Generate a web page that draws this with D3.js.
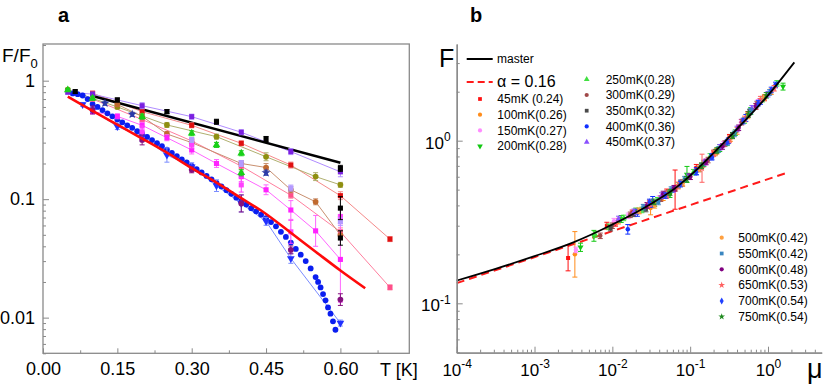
<!DOCTYPE html>
<html>
<head>
<meta charset="utf-8">
<script src="https://cdn.jsdelivr.net/npm/d3@7"></script>
<style>
body { margin: 0; background: #fff; }
text { font-family: "Liberation Sans", Arial, sans-serif; fill: #000; }
</style>
</head>
<body>
<svg id="chart" width="830" height="389"></svg>
<script>
// ---------- panel a : F/F0 against T ----------
var blackFitT = [0.1, 0.6];
var blackFitF = [0.743, 0.203];
var redFitT = [0.05, 0.1, 0.15, 0.2, 0.25, 0.3, 0.35, 0.4, 0.45, 0.5, 0.55, 0.6, 0.65];
var redFitF = [0.733, 0.556, 0.425, 0.325, 0.247, 0.183, 0.138, 0.102, 0.075, 0.052, 0.036, 0.025, 0.0177];

var dotsT = [0.06, 0.07, 0.08, 0.09, 0.10, 0.11, 0.12, 0.13, 0.14, 0.15, 0.16, 0.17, 0.18, 0.19, 0.20,
             0.21, 0.22, 0.23, 0.24, 0.25, 0.26, 0.27, 0.28, 0.29, 0.30, 0.31, 0.32, 0.33, 0.34, 0.35,
             0.36, 0.37, 0.38, 0.39, 0.40, 0.41, 0.42, 0.43, 0.44, 0.45, 0.46, 0.47, 0.48, 0.49, 0.50,
             0.51, 0.52, 0.53, 0.54, 0.55, 0.555, 0.56, 0.565, 0.57, 0.575, 0.58, 0.585, 0.59];
var dotsF = [0.78, 0.77, 0.75, 0.70, 0.635, 0.60, 0.565, 0.53, 0.50, 0.47, 0.445, 0.42, 0.40, 0.375, 0.355,
             0.335, 0.315, 0.297, 0.28, 0.262, 0.246, 0.231, 0.217, 0.204, 0.191, 0.179, 0.168, 0.157, 0.147, 0.137,
             0.128, 0.119, 0.111, 0.103, 0.096, 0.09, 0.084, 0.079, 0.074, 0.069, 0.064, 0.059, 0.053, 0.048, 0.043,
             0.038, 0.034, 0.030, 0.026, 0.022, 0.020, 0.018, 0.0158, 0.014, 0.0122, 0.0108, 0.0093, 0.0079];

var violetT = [0.05, 0.1, 0.2, 0.3, 0.4, 0.5, 0.6];
var violetF = [0.80, 0.77, 0.615, 0.497, 0.367, 0.252, 0.17];
var violetE = [1.04, 1.04, 1.06, 1.05, 1.05, 1.06, 1.1];

var blackT = [0.065, 0.15, 0.25, 0.35, 0.45, 0.6, 0.6, 0.6];
var blackF = [0.81, 0.687, 0.548, 0.45, 0.322, 0.182, 0.084, 0.047];
var blackE = [1.03, 1.04, 1.04, 1.05, 1.05, 1.06, 1.25, 1.15];

var salmonT = [0.1, 0.2, 0.3, 0.4, 0.5, 0.6, 0.7];
var salmonF = [0.783, 0.548, 0.42, 0.296, 0.194, 0.107, 0.046];
var salmonE = [1.04, 1.05, 1.05, 1.05, 1.06, 1.08, 1.05];

var oliveT = [0.05, 0.15, 0.25, 0.35, 0.45, 0.55, 0.6];
var oliveF = [0.84, 0.6, 0.423, 0.337, 0.228, 0.155, 0.132];
var oliveE = [1.03, 1.04, 1.05, 1.05, 1.08, 1.08, 1.05];

var greenT = [0.05, 0.1, 0.2, 0.3, 0.35, 0.4, 0.4];
var greenF = [0.835, 0.71, 0.497, 0.36, 0.287, 0.244, 0.167];
var greenE = [1.03, 1.04, 1.05, 1.05, 1.05, 1.05, 1.06];

var brownT = [0.15, 0.2, 0.25, 0.3, 0.4, 0.45, 0.5, 0.55, 0.6];
var brownF = [0.63, 0.5, 0.355, 0.3, 0.2, 0.185, 0.12, 0.095, 0.0498];
var brownE = [1.04, 1.05, 1.05, 1.06, 1.06, 1.08, 1.06, 1.06, 1.08];

var pinkT = [0.1, 0.2, 0.3, 0.4, 0.5, 0.6, 0.7];
var pinkF = [0.70, 0.47, 0.31, 0.19, 0.108, 0.053, 0.018];
var pinkE = [1.04, 1.05, 1.05, 1.06, 1.06, 1.08, 1.05];

var magT = [0.1, 0.15, 0.2, 0.25, 0.3, 0.35, 0.4, 0.45, 0.5, 0.55, 0.6];
var magF = [0.55, 0.5, 0.42, 0.33, 0.26, 0.2, 0.155, 0.12, 0.081, 0.054, 0.031];
var magE = [1.05, 1.05, 1.06, 1.06, 1.08, 1.08, 1.1, 1.1, 1.2, 1.35, 2.3];

var mag2T = [0.2, 0.3, 0.4, 0.5, 0.6];
var mag2F = [0.37, 0.29, 0.132, 0.053, 0.0714];
var mag2E = [1.12, 1.08, 1.15, 1.25, 1.15];

var blueT = [0.08, 0.1, 0.15, 0.2, 0.25, 0.3, 0.35, 0.4, 0.45, 0.5, 0.6];
var blueF = [0.63, 0.566, 0.41, 0.337, 0.236, 0.188, 0.13, 0.092, 0.065, 0.0316, 0.009];
var blueE = [1.04, 1.05, 1.06, 1.1, 1.15, 1.08, 1.12, 1.18, 1.08, 1.1, 1.06];

var dpurpT = [0.1, 0.2, 0.3, 0.4, 0.5, 0.6];
var dpurpF = [0.566, 0.316, 0.177, 0.092, 0.0373, 0.0142];
var dpurpE = [1.08, 1.1, 1.06, 1.18, 1.08, 1.12];

var lilacT = [0.3, 0.4, 0.5, 0.6];
var lilacF = [0.316, 0.2, 0.124, 0.0646];
var lilacE = [1.05, 1.06, 1.06, 1.08];

var navyT = [0.125, 0.18, 0.45];
var navyF = [0.645, 0.52, 0.167];
var navyE = [1.04, 1.04, 1.05];

var aTicks = [0, 0.15, 0.3, 0.45, 0.6];
var aMinor = [0.075, 0.225, 0.375, 0.525, 0.675];
var aYTicks = [0.01, 0.1, 1];

// ---------- panel b : F against mu ----------
var masterMu = [1e-4, 3.16e-4, 1e-3, 3.16e-3, 1e-2, 3.16e-2, 0.0676, 0.1, 0.316, 1.0, 2.18];
var masterF = [0.138, 0.163, 0.195, 0.237, 0.305, 0.41, 0.52, 0.61, 1.05, 1.9, 3.03];
var alphaMu = [1e-4, 1.84];
var alphaF = [0.133, 0.64];

var mu45 = [0.0027, 0.0085, 0.011, 0.018, 0.03, 0.05, 0.064, 0.12, 0.2, 0.32, 0.55, 0.9];
var f45 = [0.19, 0.30, 0.31, 0.36, 0.41, 0.48, 0.50, 0.68, 0.84, 1.04, 1.45, 1.83];
var e45 = [1.2, 1.05, 1.04, 1.04, 1.05, 1.05, 1.32, 1.05, 1.04, 1.05, 1.04, 1.04];
var mu100 = [0.0033, 0.012, 0.022, 0.031, 0.045, 0.08, 0.14, 0.22, 0.4, 0.7, 1.1];
var f100 = [0.20, 0.32, 0.37, 0.385, 0.45, 0.55, 0.70, 0.86, 1.15, 1.62, 2.0];
var e100 = [1.38, 1.04, 1.04, 1.1, 1.05, 1.05, 1.04, 1.04, 1.05, 1.04, 1.04];
var mu150 = [0.0034, 0.0105, 0.016, 0.026, 0.04, 0.06, 0.1, 0.16, 0.27, 0.45, 0.75];
var f150 = [0.213, 0.32, 0.345, 0.39, 0.44, 0.5, 0.6, 0.74, 0.95, 1.3, 1.72];
var mu200 = [0.0039, 0.0058, 0.013, 0.02, 0.035, 0.055, 0.091, 0.15, 0.24, 0.38, 0.6, 1.56];
var f200 = [0.221, 0.26, 0.33, 0.37, 0.41, 0.47, 0.62, 0.72, 0.9, 1.12, 1.52, 2.15];
var e200 = [1.06, 1.08, 1.05, 1.04, 1.04, 1.05, 1.12, 1.04, 1.05, 1.04, 1.05, 1.05];
var mu250 = [0.006, 0.009, 0.014, 0.024, 0.038, 0.07, 0.11, 0.18, 0.3, 0.5, 0.85, 1.3];
var f250 = [0.265, 0.295, 0.335, 0.375, 0.43, 0.53, 0.64, 0.8, 0.97, 1.33, 1.8, 2.25];
var mu300 = [0.007, 0.01, 0.017, 0.028, 0.042, 0.065, 0.1, 0.17, 0.28, 0.46, 0.72];
var f300 = [0.26, 0.30, 0.35, 0.4, 0.44, 0.51, 0.6, 0.76, 0.96, 1.3, 1.68];
var mu350 = [0.0095, 0.019, 0.027, 0.048, 0.075, 0.13, 0.21, 0.35, 0.58];
var f350 = [0.29, 0.355, 0.38, 0.46, 0.55, 0.67, 0.85, 1.08, 1.5];
var mu400 = [0.0158, 0.021, 0.033, 0.05, 0.078, 0.12, 0.19, 0.31, 0.52, 0.8, 1.25];
var f400 = [0.285, 0.36, 0.42, 0.47, 0.55, 0.65, 0.79, 1.0, 1.38, 1.74, 2.2];
var e400 = [1.07, 1.05, 1.08, 1.04, 1.04, 1.05, 1.04, 1.04, 1.05, 1.04, 1.04];
var mu450 = [0.012, 0.019, 0.03, 0.043, 0.06, 0.095, 0.15, 0.24, 0.4, 0.62, 1.0];
var f450 = [0.33, 0.365, 0.41, 0.46, 0.5, 0.6, 0.73, 0.91, 1.18, 1.58, 1.93];
var mu500 = [0.022, 0.035, 0.05, 0.08, 0.13, 0.21, 0.33, 0.55, 0.9];
var f500 = [0.37, 0.4, 0.47, 0.55, 0.67, 0.84, 1.03, 1.42, 1.85];
var mu550 = [0.025, 0.039, 0.057, 0.085, 0.14, 0.23, 0.37, 0.6, 1.05];
var f550 = [0.39, 0.42, 0.5, 0.58, 0.7, 0.88, 1.1, 1.52, 1.98];
var mu600 = [0.028, 0.045, 0.062, 0.1, 0.16, 0.26, 0.42, 0.7];
var f600 = [0.40, 0.47, 0.51, 0.6, 0.74, 0.92, 1.2, 1.63];
var mu650 = [0.03, 0.05, 0.07, 0.142, 0.2, 0.32, 0.5, 0.8, 1.2];
var f650 = [0.41, 0.46, 0.53, 0.677, 0.83, 1.02, 1.36, 1.8, 2.1];
var e650 = [1.04, 1.04, 1.05, 1.22, 1.04, 1.05, 1.04, 1.04, 1.04];
var mu700 = [0.03, 0.048, 0.075, 0.12, 0.19, 0.3, 0.48, 0.75, 1.1];
var f700 = [0.42, 0.46, 0.54, 0.64, 0.8, 0.98, 1.32, 1.7, 2.05];
var mu750 = [0.034, 0.055, 0.09, 0.14, 0.22, 0.35, 0.56, 0.95];
var f750 = [0.42, 0.48, 0.58, 0.7, 0.87, 1.07, 1.45, 1.9];

var bXTicks = [1e-4, 1e-3, 1e-2, 1e-1, 1];
var bYTicks = [0.1, 1];

// ---------- drawing ----------
var svg = d3.select("#chart");
var axisGray = "#8a8a8a";

function rows(t, f, e) {
    return t.map(function(d, i) { return { x: d, y: f[i], e: e ? e[i] : 1.04 }; });
}

function drawMarks(g, x, y, pts, color, sym, size, barColor) {
    var bars = g.append("g").attr("stroke", barColor).attr("stroke-width", 1);
    pts.forEach(function(p) {
        var cx = x(p.x), y0 = y(p.y / p.e), y1 = y(p.y * p.e);
        bars.append("line").attr("x1", cx).attr("x2", cx).attr("y1", y0).attr("y2", y1);
        bars.append("line").attr("x1", cx - 2.5).attr("x2", cx + 2.5).attr("y1", y0).attr("y2", y0);
        bars.append("line").attr("x1", cx - 2.5).attr("x2", cx + 2.5).attr("y1", y1).attr("y2", y1);
    });
    g.append("g").selectAll("path").data(pts).join("path")
        .attr("transform", function(p) { return "translate(" + x(p.x) + "," + y(p.y) + ")" + (sym.down ? " rotate(180)" : ""); })
        .attr("d", d3.symbol().type(sym.type || sym).size(size))
        .attr("fill", color);
}

var tri = d3.symbolTriangle;
var triDown = { type: d3.symbolTriangle, down: true };

// panel a
var xa = d3.scaleLinear().domain([0, 0.739]).range([43, 409.3]);
var ya = d3.scaleLog().domain([0.005, 2.04]).range([353.3, 44]);
var ga = svg.append("g");

var lineA = d3.line().x(function(p) { return xa(p.x); }).y(function(p) { return ya(p.y); });

var aSeries = [
    { pts: rows(pinkT, pinkF, pinkE), color: "#ff4f8a", line: "#ff7e9e", sym: d3.symbolSquare },
    { pts: rows(salmonT, salmonF, salmonE), color: "#e01010", line: "#f58a8a", sym: d3.symbolSquare },
    { pts: rows(oliveT, oliveF, oliveE), color: "#8f8f10", line: "#b0b070", sym: d3.symbolCircle },
    { pts: rows(brownT, brownF, brownE), color: "#c06a30", line: "#c99070", sym: d3.symbolCircle },
    { pts: rows(magT, magF, magE), color: "#ff22ff", line: "#ff66ff", sym: d3.symbolSquare },
    { pts: rows(blueT, blueF, blueE), color: "#2030ff", line: "#7a8cff", sym: triDown },
    { pts: rows(violetT, violetF, violetE), color: "#7a20e0", line: "#b08cff", sym: d3.symbolSquare },
    { pts: rows(greenT, greenF, greenE), color: "#18d018", sym: tri },
    { pts: rows(mag2T, mag2F, mag2E), color: "#ff40ff", sym: d3.symbolSquare },
    { pts: rows(dpurpT, dpurpF, dpurpE), color: "#85107f", sym: d3.symbolCircle },
    { pts: rows(lilacT, lilacF, lilacE), color: "#b49aff", sym: d3.symbolSquare },
    { pts: rows(navyT, navyF, navyE), color: "#2a3aa8", sym: d3.symbolStar },
    { pts: rows(blackT, blackF, blackE), color: "#000000", sym: d3.symbolSquare }
];

aSeries.forEach(function(s) {
    if (s.line) {
        ga.append("path").attr("d", lineA(s.pts)).attr("fill", "none")
          .attr("stroke", s.line).attr("stroke-width", 1);
    }
});

ga.append("path").attr("d", lineA(rows(blackFitT, blackFitF))).attr("fill", "none")
  .attr("stroke", "#000").attr("stroke-width", 2.5);

ga.selectAll("circle.dot").data(rows(dotsT, dotsF)).join("circle")
  .attr("class", "dot")
  .attr("cx", function(p) { return xa(p.x); })
  .attr("cy", function(p) { return ya(p.y); })
  .attr("r", 2.9).attr("fill", "#0a1ef0");

aSeries.forEach(function(s) {
    drawMarks(ga, xa, ya, s.pts, s.color, s.sym, 26, s.line || s.color);
});

ga.append("path").attr("fill", "none")
  .attr("stroke", "#ff0a0a").attr("stroke-width", 2.6)
  .attr("d", d3.line().x(function(p) { return xa(p.x); }).y(function(p) { return ya(p.y); })
      .curve(d3.curveMonotoneX)(rows(redFitT, redFitF)));

// frame and ticks of panel a
ga.append("rect").attr("x", 43).attr("y", 44).attr("width", 409.3 - 43).attr("height", 353.3 - 44)
  .attr("fill", "none").attr("stroke", axisGray).attr("stroke-width", 1.3);

ga.append("g").attr("transform", "translate(0,353.3)")
  .call(d3.axisBottom(xa).tickValues(aTicks).tickSize(-5).tickPadding(9).tickFormat(d3.format(".2f")));
ga.append("g").attr("transform", "translate(0,353.3)")
  .call(d3.axisBottom(xa).tickValues(aMinor).tickSize(-3).tickFormat(""));
ga.append("g").attr("transform", "translate(43,0)")
  .call(d3.axisLeft(ya).tickValues(aYTicks).tickSize(-6).tickPadding(8).tickFormat(function(d) { return String(d); }));
ga.append("g").attr("transform", "translate(43,0)")
  .call(d3.axisLeft(ya).tickValues(ya.ticks().filter(function(d) {
      var l = Math.log10(d); return Math.abs(l - Math.round(l)) > 1e-6;
  })).tickSize(-3).tickFormat(""));

ga.selectAll(".domain").remove();
ga.selectAll(".tick line").attr("stroke", axisGray);
ga.selectAll(".tick text").attr("font-size", 18).attr("fill", "#000")
  .attr("font-family", "'Liberation Sans', Arial, sans-serif");

var lbA = ga.append("text").attr("x", 2).attr("y", 62).attr("font-size", 19).text("F/F");
lbA.append("tspan").attr("font-size", 13).attr("dy", 6).text("0");
ga.append("text").attr("x", 380).attr("y", 376).attr("font-size", 18).text("T [K]");
svg.append("text").attr("x", 58).attr("y", 22).attr("font-size", 20).attr("font-weight", "bold").text("a");

// panel b
var xb = d3.scaleLog().domain([1e-4, 4.9]).range([456.7, 821.7]);
var yb = d3.scaleLog().domain([0.0497, 3.93]).range([352.7, 44]);
var gb = svg.append("g");

var bSeries = [
    { name: "45mK  (0.24)", pts: rows(mu45, f45, e45), color: "#ff1010", sym: d3.symbolSquare },
    { name: "100mK(0.26)", pts: rows(mu100, f100, e100), color: "#ff8c1a", sym: d3.symbolCircle },
    { name: "150mK(0.27)", pts: rows(mu150, f150), color: "#ff8cff", sym: d3.symbolCircle },
    { name: "200mK(0.28)", pts: rows(mu200, f200, e200), color: "#12c812", sym: triDown },
    { name: "250mK(0.28)", pts: rows(mu250, f250), color: "#40e040", sym: tri },
    { name: "300mK(0.29)", pts: rows(mu300, f300), color: "#a04848", sym: d3.symbolCircle },
    { name: "350mK(0.32)", pts: rows(mu350, f350), color: "#4a4a4a", sym: d3.symbolSquare },
    { name: "400mK(0.36)", pts: rows(mu400, f400, e400), color: "#1030ff", sym: d3.symbolCircle },
    { name: "450mK(0.37)", pts: rows(mu450, f450), color: "#8a50ff", sym: tri },
    { name: "500mK(0.42)", pts: rows(mu500, f500), color: "#ffa040", sym: d3.symbolCircle },
    { name: "550mK(0.42)", pts: rows(mu550, f550), color: "#3a86c0", sym: d3.symbolSquare },
    { name: "600mK(0.48)", pts: rows(mu600, f600), color: "#800080", sym: d3.symbolCircle },
    { name: "650mK(0.53)", pts: rows(mu650, f650, e650), color: "#ff6060", sym: d3.symbolStar },
    { name: "700mK(0.54)", pts: rows(mu700, f700), color: "#2040ff", sym: d3.symbolDiamond },
    { name: "750mK(0.54)", pts: rows(mu750, f750), color: "#208a20", sym: d3.symbolStar }
];

var lineB = d3.line().x(function(p) { return xb(p.x); }).y(function(p) { return yb(p.y); });

gb.append("path").attr("d", lineB(rows(alphaMu, alphaF))).attr("fill", "none")
  .attr("stroke", "#ff1a1a").attr("stroke-width", 2).attr("stroke-dasharray", "8,5");

bSeries.forEach(function(s) {
    drawMarks(gb, xb, yb, s.pts, s.color, s.sym, 16, s.color);
});

gb.append("path").attr("d", lineB.curve(d3.curveMonotoneX)(rows(masterMu, masterF))).attr("fill", "none")
  .attr("stroke", "#000").attr("stroke-width", 1.8);

function supLabels(sel, anchor) {
    sel.selectAll(".tick text").each(function(d) {
        var t = d3.select(this), ex = Math.round(Math.log10(d));
        t.text("10").attr("text-anchor", anchor);
        t.append("tspan").attr("font-size", 12).attr("dy", "-0.65em").text(String(ex));
    });
}

var axB = gb.append("g").attr("transform", "translate(0,352.7)")
  .call(d3.axisBottom(xb).tickValues(bXTicks).tickSize(-6).tickSizeOuter(0).tickPadding(11));
gb.append("g").attr("transform", "translate(0,352.7)")
  .call(d3.axisBottom(xb).tickValues(xb.ticks().filter(function(d) {
      var l = Math.log10(d); return Math.abs(l - Math.round(l)) > 1e-6;
  })).tickSize(-3).tickSizeOuter(0).tickFormat(""));
var ayB = gb.append("g").attr("transform", "translate(456.7,0)")
  .call(d3.axisLeft(yb).tickValues(bYTicks).tickSize(-6).tickSizeOuter(0).tickPadding(6));
gb.append("g").attr("transform", "translate(456.7,0)")
  .call(d3.axisLeft(yb).tickValues(yb.ticks().filter(function(d) {
      var l = Math.log10(d); return Math.abs(l - Math.round(l)) > 1e-6;
  })).tickSize(-3).tickSizeOuter(0).tickFormat(""));

gb.selectAll(".domain").attr("stroke", axisGray).attr("stroke-width", 1.3);
gb.selectAll(".tick line").attr("stroke", axisGray);
gb.selectAll(".tick text").attr("font-size", 17).attr("fill", "#000")
  .attr("font-family", "'Liberation Sans', Arial, sans-serif");
supLabels(axB, "middle");
supLabels(ayB, "end");
ayB.selectAll(".tick text").attr("dy", "0.45em");

gb.append("text").attr("x", 439).attr("y", 67).attr("font-size", 25).text("F");
gb.append("text").attr("x", 807).attr("y", 378).attr("font-size", 27).text("μ");
svg.append("text").attr("x", 470).attr("y", 22).attr("font-size", 20).attr("font-weight", "bold").text("b");

// legend of panel b
var lg = gb.append("g");
lg.append("line").attr("x1", 466.7).attr("x2", 492.7).attr("y1", 59).attr("y2", 59)
  .attr("stroke", "#000").attr("stroke-width", 2);
lg.append("text").attr("x", 497).attr("y", 63).attr("font-size", 12).text("master");
lg.append("line").attr("x1", 466.7).attr("x2", 492.7).attr("y1", 82).attr("y2", 82)
  .attr("stroke", "#ff1a1a").attr("stroke-width", 2).attr("stroke-dasharray", "7,4");
lg.append("text").attr("x", 497).attr("y", 86.5).attr("font-size", 16)
  .attr("font-family", "'Liberation Serif', 'Times New Roman', serif").text("α = 0.16");

function legendItem(s, mx, tx, cy) {
    lg.append("path")
      .attr("transform", "translate(" + mx + "," + cy + ")" + (s.sym.down ? " rotate(180)" : ""))
      .attr("d", d3.symbol().type(s.sym.type || s.sym).size(14)).attr("fill", s.color);
    lg.append("text").attr("x", tx).attr("y", cy + 4.3).attr("font-size", 12).text(s.name);
}
bSeries.forEach(function(s, i) {
    if (i < 4) legendItem(s, 480, 497.3, 99 + i * 15.7);
    else if (i < 9) legendItem(s, 586.7, 605.7, 79.3 + (i - 4) * 15.7);
    else legendItem(s, 721.7, 738.3, 237.7 + (i - 9) * 15.8);
});
</script>
</body>
</html>
